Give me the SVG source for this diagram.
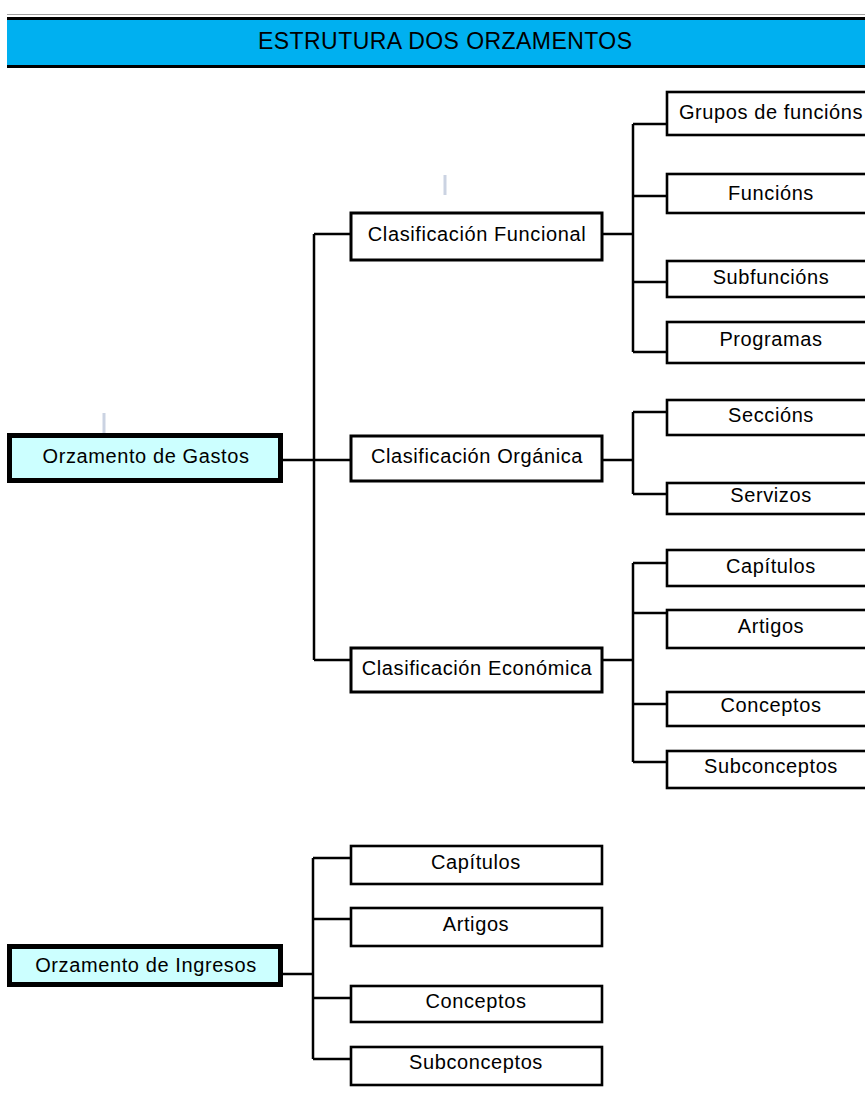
<svg xmlns="http://www.w3.org/2000/svg" width="865" height="1102" viewBox="0 0 865 1102">
<style>
.t{font-family:"Liberation Sans",Arial,sans-serif;font-size:20px;fill:#000;text-anchor:middle;letter-spacing:0.6px}
.leaf{fill:#fff;stroke:#000;stroke-width:2.6}
.mid{fill:#fff;stroke:#000;stroke-width:3}
.root{fill:#CCFFFF;stroke:#000;stroke-width:5}
.c{fill:none;stroke:#000;stroke-width:2.5}
.tick{stroke:#CBD3E2;stroke-width:3}
</style>
<rect x="0" y="0" width="865" height="1102" fill="#fff"/>
<g id="header">
<line x1="7" y1="14.5" x2="865" y2="14.5" stroke="#A0A0A0" stroke-width="1"/>
<rect x="7" y="17" width="858" height="51" fill="#00B0F0"/>
<rect x="7" y="17" width="858" height="3" fill="#000"/>
<rect x="7" y="65" width="858" height="3" fill="#000"/>
<text x="445" y="49" style="font-family:'Liberation Sans',Arial,sans-serif;font-size:23px;text-anchor:middle" textLength="374" lengthAdjust="spacing">ESTRUTURA DOS ORZAMENTOS</text>
</g>
<g id="ticks">
<line class="tick" x1="104" y1="413" x2="104" y2="433"/>
<line class="tick" x1="445" y1="175" x2="445" y2="195"/>
</g>
<g id="connectors">
<path class="c" d="M282 460H351M314 234V660M314 234H351M314 660H351"/>
<path class="c" d="M602 234H633M633 124V352M633 124H667M633 196H667M633 282H667M633 352H667"/>
<path class="c" d="M602 460H633M633 412V494M633 412H667M633 494H667"/>
<path class="c" d="M602 660H633M633 563V762M633 563H667M633 613H667M633 704H667M633 762H667"/>
<path class="c" d="M282 974H313M313 858V1059M313 858H351M313 919H351M313 998H351M313 1059H351"/>
</g>
<g id="gastos"><rect class="root" x="9.5" y="435.5" width="271" height="45"/><text class="t" x="146" y="463">Orzamento de Gastos</text></g>
<g id="funcional"><rect class="mid" x="351" y="213" width="251" height="47"/><text class="t" x="477" y="241">Clasificación Funcional</text></g>
<g id="organica"><rect class="mid" x="351" y="436" width="251" height="45"/><text class="t" x="477" y="463">Clasificación Orgánica</text></g>
<g id="economica"><rect class="mid" x="351" y="648" width="251" height="44"/><text class="t" x="477" y="675">Clasificación Económica</text></g>
<g id="grupos"><rect class="leaf" x="667" y="92" width="220" height="43"/><text class="t" x="771" y="119">Grupos de funcións</text></g>
<g id="funcions"><rect class="leaf" x="667" y="174" width="220" height="39"/><text class="t" x="771" y="200">Funcións</text></g>
<g id="subfuncions"><rect class="leaf" x="667" y="261" width="220" height="36"/><text class="t" x="771" y="284">Subfuncións</text></g>
<g id="programas"><rect class="leaf" x="667" y="322" width="220" height="41"/><text class="t" x="771" y="346">Programas</text></g>
<g id="seccions"><rect class="leaf" x="667" y="400" width="220" height="35"/><text class="t" x="771" y="422">Seccións</text></g>
<g id="servizos"><rect class="leaf" x="667" y="483" width="220" height="31"/><text class="t" x="771" y="502">Servizos</text></g>
<g id="g-capitulos"><rect class="leaf" x="667" y="550" width="220" height="36"/><text class="t" x="771" y="573">Capítulos</text></g>
<g id="g-artigos"><rect class="leaf" x="667" y="610" width="220" height="38"/><text class="t" x="771" y="633">Artigos</text></g>
<g id="g-conceptos"><rect class="leaf" x="667" y="692" width="220" height="34"/><text class="t" x="771" y="712">Conceptos</text></g>
<g id="g-subconceptos"><rect class="leaf" x="667" y="751" width="220" height="37"/><text class="t" x="771" y="773">Subconceptos</text></g>
<g id="ingresos"><rect class="root" x="9.5" y="946.5" width="271" height="38"/><text class="t" x="146" y="972">Orzamento de Ingresos</text></g>
<g id="i-capitulos"><rect class="leaf" x="351" y="846" width="251" height="38"/><text class="t" x="476" y="869">Capítulos</text></g>
<g id="i-artigos"><rect class="leaf" x="351" y="908" width="251" height="38"/><text class="t" x="476" y="931">Artigos</text></g>
<g id="i-conceptos"><rect class="leaf" x="351" y="986" width="251" height="36"/><text class="t" x="476" y="1008">Conceptos</text></g>
<g id="i-subconceptos"><rect class="leaf" x="351" y="1047" width="251" height="38"/><text class="t" x="476" y="1069">Subconceptos</text></g>
</svg>
